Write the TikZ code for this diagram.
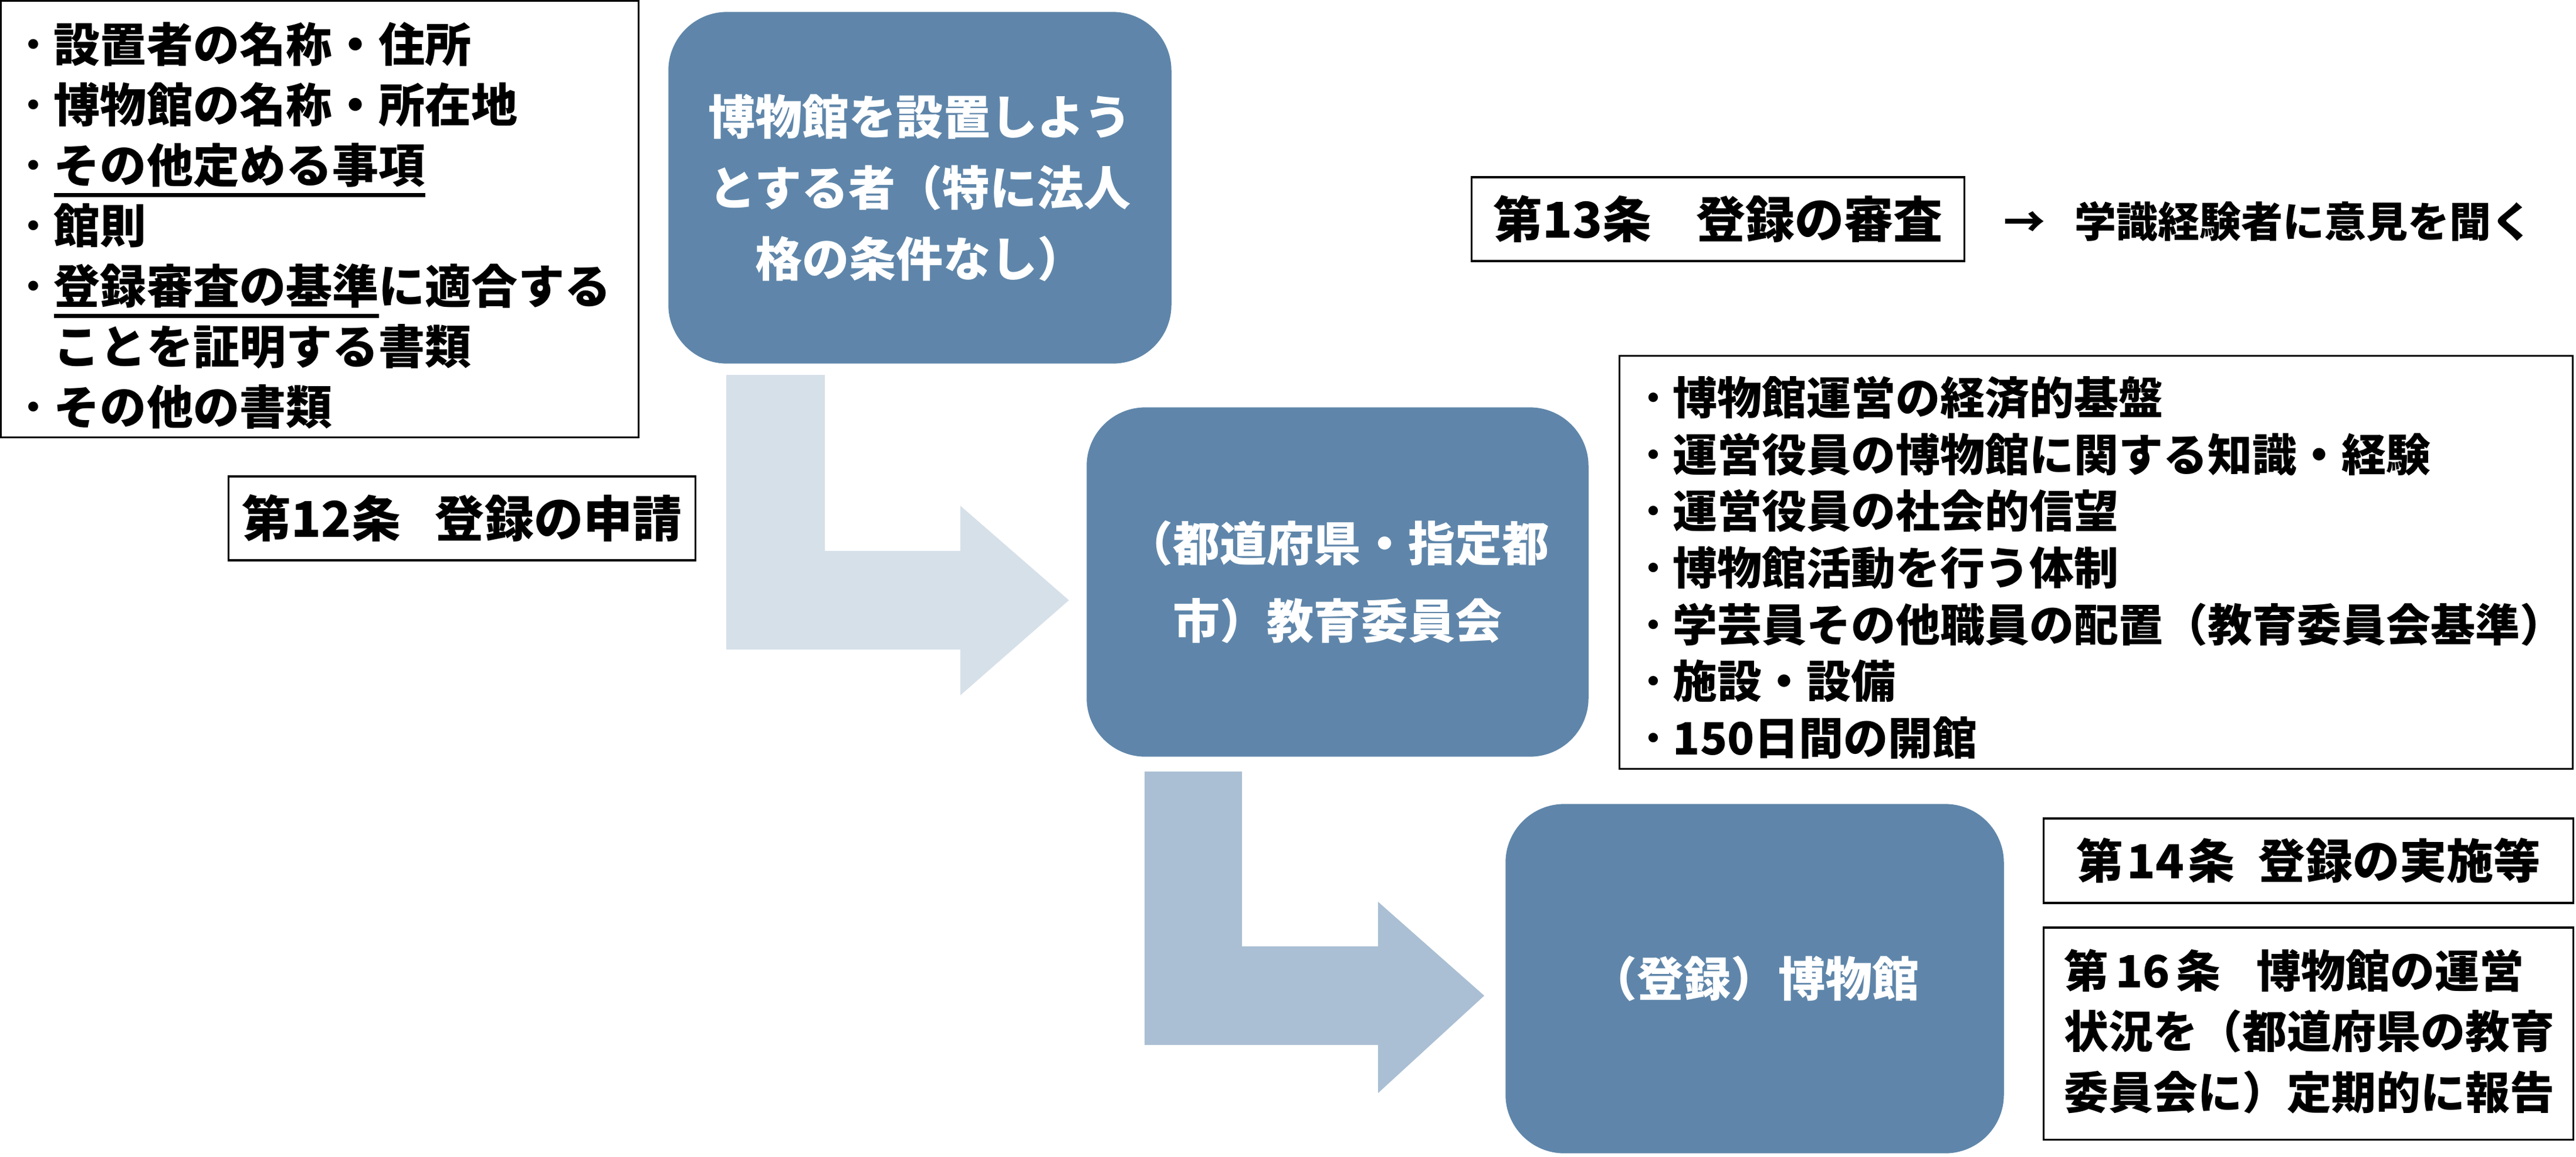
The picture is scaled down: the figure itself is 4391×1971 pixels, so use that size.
\documentclass[tikz,border=0pt]{standalone}
\usepackage{fontspec}
\setmainfont{Noto Sans CJK JP}
\definecolor{boxblue}{RGB}{95,134,170}
\definecolor{arrowA}{RGB}{214,224,233}
\definecolor{arrowB}{RGB}{170,191,211}
\newcommand\fsz[2]{\fontsize{#1}{#2}\selectfont}
\newsavebox\ulbox
\newcommand\ulx[1]{\sbox\ulbox{#1}\rlap{\rule[-0.31em]{\wd\ulbox}{0.09em}}\usebox\ulbox}
\newcommand\bul{\makebox[0.62em][l]{\kern-0.32em {\mdseries ・}}}
\newcommand\bulsp{\hspace*{0.62em}}
\begin{document}
\begin{tikzpicture}[x=0.01cm,y=-0.01cm,
  bluebox/.style={fill=boxblue, rounded corners=1cm, text=white, align=center, inner sep=0pt, font=\fsz{22.8pt}{34.4pt}\bfseries},
  frame/.style={draw=black, line width=0.9pt, fill=white, inner sep=0pt},
  listtext/.style={align=left, inner sep=0pt, anchor=west},
  headtext/.style={font=\fsz{23.9pt}{28pt}\bfseries},
  blockA/.style={fill=arrowA},
  blockB/.style={fill=arrowB}]
\useasboundingbox (0,0) rectangle (4391,1971);

% block arrows
\fill[blockA] (1238,639) -- (1406,639) -- (1406,939) -- (1637,939) -- (1637,862) -- (1822,1023) -- (1637,1185) -- (1637,1107) -- (1238,1107) -- cycle;
\fill[blockB] (1951,1315) -- (2117,1315) -- (2117,1613) -- (2349,1613) -- (2349,1537) -- (2530,1697) -- (2349,1863) -- (2349,1781) -- (1951,1781) -- cycle;

% blue boxes
\node[bluebox, minimum width=8.57cm, minimum height=5.99cm] (setter) at (1568,320)
  {博物館を設置しよう\\とする者（特に法人\\格の条件なし）};
\node[bluebox, minimum width=8.55cm, minimum height=5.95cm, font=\fsz{22.8pt}{37.6pt}\bfseries] (board) at (2280,992)
  {（都道府県・指定都\\市）教育委員会};
\node[bluebox, minimum width=8.49cm, minimum height=5.95cm] (museum) at (2991,1668)
  {（登録）博物館};

% documents list
\node[frame, minimum width=10.86cm, minimum height=7.43cm] (docs) at (545,373.5) {};
\node[listtext, font=\fsz{22.5pt}{29.3pt}\bfseries] (docstext) at (42,384)
  {\bul 設置者の名称・住所\\
   \bul 博物館の名称・所在地\\
   \bul \ulx{その他定める事項}\\
   \bul 館則\\
   \bul \ulx{登録審査の基準}に適合する\\
   \bulsp ことを証明する書類\\
   \bul その他の書類};

% article 12
\node[frame, minimum width=7.95cm, minimum height=1.43cm, headtext] (art12) at (787.5,883.5)
  {第12条\hspace{0.7em}登録の申請};

% article 13
\node[frame, minimum width=8.39cm, minimum height=1.43cm, headtext] (art13) at (2928.5,373.5)
  {第13条\hspace{0.9em}登録の審査};
\node[anchor=west, inner sep=0pt, font=\fsz{20.2pt}{24pt}\bfseries] (advice) at (3415,377)
  {→\hspace{0.7em}学識経験者に意見を聞く};

% criteria list
\node[frame, minimum width=16.24cm, minimum height=7.03cm] (crit) at (3573,958.5) {};
\node[listtext, font=\fsz{21.6pt}{27.5pt}\bfseries] (crittext) at (2804,967.5)
  {\bul 博物館運営の経済的基盤\\
   \bul 運営役員の博物館に関する知識・経験\\
   \bul 運営役員の社会的信望\\
   \bul 博物館活動を行う体制\\
   \bul 学芸員その他職員の配置（教育委員会基準）\\
   \bul 施設・設備\\
   \bul 150日間の開館};

% article 14
\node[frame, minimum width=9.02cm, minimum height=1.44cm, font=\fsz{22.8pt}{27pt}\bfseries] (art14) at (3935,1467)
  {第\kern0.08em 14\kern0.08em 条\hspace{0.5em}登録の実施等};

% article 16
\node[frame, minimum width=9.02cm, minimum height=3.61cm] (art16) at (3935,1761.5) {};
\node[listtext, font=\fsz{21.6pt}{29.3pt}\bfseries] (art16text) at (3518,1758)
  {第\kern0.15em 16\kern0.15em 条\hspace{0.8em}博物館の運営\\
   状況を（都道府県の教育\\
   委員会に）定期的に報告};
\end{tikzpicture}
\end{document}
